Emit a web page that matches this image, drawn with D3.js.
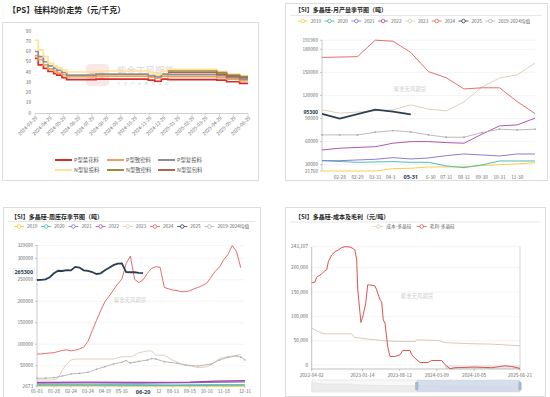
<!DOCTYPE html>
<html>
<head>
<meta charset="utf-8">
<script src="https://cdn.jsdelivr.net/npm/d3@7"></script>
<style>
html, body { margin: 0; padding: 0; background: #fff; }
svg { display: block; font-family: "Noto Sans CJK SC", "Noto Sans", sans-serif; }
</style>
</head>
<body>
<svg id="chart" width="550" height="397"></svg>
<script>
// ---------- panel 1: PS price (元/千克), step dates ----------
const psDates = ['2024-03-29','2024-04-05','2024-04-16','2024-04-26','2024-05-08','2024-05-15','2024-05-26','2024-06-05',
  '2024-08-07','2024-11-27','2024-12-11','2024-12-25','2025-01-08','2025-04-23','2025-05-14','2025-06-11','2025-06-29'];
const psPFlower  = [53.3, 47, 43.5, 40.5, 38.5, 37, 34.5, 32.5, 33, 32, 31, 33, 32.5, 32, 30.5, 29, 29];
const psPDense   = [56, 52, 47, 43, 41, 39, 37.5, 35.5, 36, 35, 34, 36, 35.5, 34.5, 33, 31.5, 31.5];
const psPRecharge= [60, 55, 50, 46, 43.5, 41.5, 39.5, 37, 38, 36.5, 35.5, 38, 37.5, 36.5, 34.5, 33, 33];
const psNRecharge= [71, 61.5, 55, 48.5, 46, 44, 42, 40, 41, 39.5, 38, 41, 42.5, 40.5, 38, 36, 36];
const psNDense   = [null, null, null, null, null, null, null, null, null, null, null, null, 41, 39.5, 37, 35.5, 35.5];
const psNMixed   = [null, null, null, null, null, null, null, null, null, null, null, null, 39.5, 38, 36, 34.5, 34.5];
const psTicks = ['2024-03-29','2024-04-29','2024-05-29','2024-06-29','2024-07-29','2024-08-29','2024-09-29','2024-10-29',
  '2024-11-29','2024-12-29','2025-01-29','2025-03-01','2025-03-29','2025-04-29','2025-05-29','2025-06-29'];
const psTickLabels = ['2024-03-29','2024-04-29','2024-05-29','2024-06-29','2024-07-29','2024-08-29','2024-09-29','2024-10-29',
  '2024-11-29','2024-12-29','2025-01-29','2025-02-29','2025-03-29','2025-04-29','2025-05-29','2025-06-29'];
const psNames = ['P型菜花料','P型致密料','P型复投料','N型复投料','N型致密料','N型混包料'];
const psColors = ['#dd2a25','#f5a05a','#8f8f8f','#ffe394','#a08a3e','#a8694c'];

// ---------- shared seasonal legend ----------
const seasonNames = ['2019','2020','2021','2022','2023','2024','2025','2019-2024均值'];
const seasonColors = ['#f7c934','#3cb3b1','#7d6fd1','#a8459c','#dccbb5','#e0605e','#2c3e50','#b3b3b3'];

// ---------- panel 2: monthly output (吨) ----------
const moCats = ['01-31','02-28','02-29','03-31','04-30','05-31','06-30','07-31','08-31','09-30','10-31','11-30','12-31'];
// axis text as it shows next to the highlighted 05-31 label
const moShown = [null,'02-28','02-29','03-31','04-3','05-31','6-30','07-31','08-31','09-30','10-31','11-30',null];
const mo2019 = [21760, 21760, null, 21760, 24800, 25300, 27000, 27000, 27400, 28700, 30000, 30900, 32600];
const mo2020 = [35200, null, 33000, 33500, 33900, 33100, 33100, 28300, 26100, 29600, 34800, 34800, 34800];
const mo2021 = [35200, 35200, null, 37000, 39100, 37400, 38700, 41700, 43900, 42600, 41300, 43900, 43900];
const mo2022 = [49100, 51400, null, 53400, 57900, 60000, 60000, 58700, 57900, 69600, 80400, 81700, 90500];
const mo2023 = [101300, 97000, null, 100000, 101300, 107800, 102200, 100000, 111500, 130900, 142600, 146900, 162200];
const mo2024 = [169500, null, 170500, 191900, 190600, 176000, 151000, 143000, 128500, 130000, 130000, 112000, 96500];
const mo2025 = [96000, 90000, null, 101500, 99000, 95300, null, null, null, null, null, null, null];
const moAvg  = [68700, 68700, 68700, 72200, 74300, 72600, 68700, 65700, 65700, 71700, 76100, 75200, 76100];
const moTicks = [21760, 30000, 60000, 90000, 120000, 150000, 180000, 191900];

// ---------- panel 3: weekly inventory (吨), x = week index ----------
const wkTickIdx = [0, 4, 8, 12, 16, 20, 28, 32, 36, 40, 44, 49];
const wkTickLabels = ['01-01','01-28','02-24','03-24','04-19','05-16','12','08-13','09-15','10-16','11-18','12-31'];
const wk2024 = [77000, 77500, 78500, 79500, 80200, 83000, 85500, 87000, 84500, 86000, 89000, 93000, 106500, 131000, 155000, 178000,
  199000, 212000, 226000, 240000, 252000, 288000, 305300, 251000, 243500, 250000, 265000, 276500, 280500, 279000, 232000, 229000,
  226000, 225000, 222000, 222500, 224500, 229000, 232500, 237000, 242000, 256000, 270000, 280000, 297000, 309300, 329600, 316000, 278000];
const wk2025 = [249500, 250000, 251000, 256000, 265000, 271000, 270500, 272500, 272000, 280000, 278500, 272000, 270500, 268000,
  263500, 265000, 272000, 278000, 284000, 287500, 288300, 268000, 267500, 267500, 266000, 265300];
const wk2023 = [[0,16600],[4,17000],[5,22000],[6,40000],[7,54000],[8,63000],[9,65500],[18,65500],[20,70900],[22,70900],[23,74100],
  [24,80200],[26,84200],[27,84200],[28,74800],[30,74100],[32,63200],[34,54000],[36,49900],[38,45200],[40,47600],[41,51500],
  [43,67100],[45,70900],[48,76000]];
const wkAvg = [[0,20600],[2,21000],[4,22100],[6,26000],[8,30600],[10,32000],[12,34600],[14,41600],[16,47600],[18,53900],[20,58000],
  [21,62000],[22,56000],[23,58000],[24,60000],[26,63000],[27,66500],[28,65500],[30,59300],[33,55500],[35,51500],[38,49200],
  [41,53900],[43,63200],[45,69400],[47,72500],[48,70000],[49,63200]];
const wk2019 = [[0,3800],[12,3400],[24,3100],[36,2900],[49,2673]];
const wk2020 = [[0,5500],[12,5200],[24,5000],[32,4500],[40,5000],[49,5500]];
const wk2021 = [[0,9500],[12,10000],[24,9500],[36,10500],[44,12000],[49,12500]];
const wk2022 = [[0,11000],[12,11500],[24,11000],[36,11500],[42,14000],[49,15000]];
const wkTicks = [2673, 50000, 100000, 150000, 200000, 250000, 300000, 329600];

// ---------- panel 4: cost and margin (元/吨) ----------
const costSeries = [['2022-04-02',75900],['2022-04-20',72400],['2022-05-18',66900],['2022-06-16',64200],['2022-11-12',64200],
  ['2022-12-02',56600],['2023-02-15',53400],['2023-05-21',49900],['2023-08-24',48400],['2023-11-06',48400],['2023-11-16',51900],
  ['2024-03-17',50500],['2024-04-05',48400],['2024-04-24',46400],['2024-06-19',45200],['2024-10-10',43700],['2025-01-12',43100],
  ['2025-04-15',41100],['2025-06-21',39600]];
const marginSeries = [['2022-04-02',169300],['2022-04-20',170000],['2022-04-30',180400],['2022-05-28',187200],['2022-06-16',193900],
  ['2022-06-26',196000],['2022-07-05',212400],['2022-07-24',226100],['2022-08-12',232900],['2022-08-30',236300],['2022-09-18',241100],
  ['2022-10-07',243107],['2022-11-04',242500],['2022-11-23',239000],['2022-12-02',236300],['2022-12-12',215900],['2022-12-18',154400],
  ['2023-01-05',87400],['2023-01-18',103200],['2023-02-01',127100],['2023-02-12',164600],['2023-02-25',164600],['2023-03-25',162600],
  ['2023-04-04',154400],['2023-04-23',133900],['2023-05-02',130400],['2023-05-11',92900],['2023-05-21',86100],['2023-06-05',38200],
  ['2023-06-18',17700],['2023-07-16',17700],['2023-08-14',21200],['2023-08-29',30000],['2023-10-09',30000],['2023-10-19',21200],
  ['2023-11-06',14400],['2023-12-04',5400],['2024-01-20',5400],['2024-02-09',9500],['2024-04-05',9500],['2024-04-24',700],
  ['2024-05-22',-7500],['2024-06-19',-5400],['2024-10-10',-4000],['2025-01-12',-5400],['2025-03-28',-1400],['2025-05-05',-2800],
  ['2025-06-21',-6900]];
const cmTickDates = ['2022-04-02','2023-01-14','2023-08-12','2024-03-09','2024-10-05','2025-06-21'];
const cmTicks = [0, 50000, 100000, 150000, 200000, 243107];

// ---------- drawing ----------
const svg = d3.select('#chart');
const parse = d3.timeParse('%Y-%m-%d');
const AX = '#666';
const FS = 4.7;

function box(x, y, w, h) {
  svg.append('rect').attr('x', x + 0.5).attr('y', y + 0.5).attr('width', w).attr('height', h)
    .attr('fill', '#fff').attr('stroke', '#dddddd');
}

function title(x, y, s, size) {
  svg.append('text').attr('x', x).attr('y', y).text(s)
    .attr('font-size', size).attr('font-weight', 700).attr('fill', '#262626');
}

function watermark(x, y) {
  svg.append('text').attr('x', x).attr('y', y).attr('text-anchor', 'middle')
    .attr('font-size', 5.4).attr('fill', '#cfcfcf').text('紫金天风期货');
}

function seasonLegend(x0, y, step) {
  const g = svg.append('g');
  seasonNames.forEach((name, i) => {
    const mx = x0 + i * step;
    g.append('line').attr('x1', mx - 5).attr('x2', mx + 5).attr('y1', y).attr('y2', y)
      .attr('stroke', seasonColors[i]).attr('stroke-width', 0.8);
    g.append('circle').attr('cx', mx).attr('cy', y).attr('r', 1.8)
      .attr('fill', '#fff').attr('stroke', seasonColors[i]).attr('stroke-width', 0.8);
    g.append('text').attr('x', mx + 8).attr('y', y).attr('dy', '0.35em')
      .attr('font-size', FS).attr('fill', AX).text(name);
  });
}

function yLabels(g, ticks, y, xr, fmt) {
  ticks.forEach(t => {
    g.append('text').attr('x', xr).attr('y', y(t)).attr('dy', '0.35em').attr('text-anchor', 'end')
      .attr('font-size', FS).attr('fill', AX).text(fmt ? fmt(t) : t);
  });
}

function highlight(g, x, y, s, anchor, bordered, size) {
  const w = anchor === 'end' ? 21 : 18, h = 6;
  const rx = anchor === 'end' ? x - w + 1.5 : x - w / 2;
  g.append('rect').attr('x', rx).attr('y', y - h / 2).attr('width', w).attr('height', h)
    .attr('fill', '#fff').attr('stroke', bordered ? '#e3e3e3' : 'none').attr('stroke-width', 0.5);
  g.append('text').attr('x', x).attr('y', y).attr('dy', '0.36em').attr('font-family', '"Noto Sans", sans-serif')
    .attr('text-anchor', anchor).attr('font-size', size || 5.6).attr('font-weight', 700).attr('fill', '#2c3e50').text(s);
}

// ===== panel 1 =====
(function () {
  box(2, 22, 256, 158);
  title(8, 13, '【PS】硅料均价走势（元/千克）', 8);
  const g = svg.append('g');
  const x = d3.scaleTime().domain([parse('2024-03-29'), parse('2025-06-29')]).range([35, 248]);
  const y = d3.scaleLinear().domain([0, 80]).range([113, 31]);

  // watermark logo
  g.append('rect').attr('x', 86).attr('y', 64).attr('width', 23).attr('height', 22).attr('rx', 4)
    .attr('fill', '#f6dede').attr('opacity', 0.7);
  g.append('text').attr('x', 97.5).attr('y', 78).attr('text-anchor', 'middle').attr('font-size', 8)
    .attr('fill', '#eab9b9').text('紫金');
  g.append('text').attr('x', 117).attr('y', 74).attr('font-size', 9.5).attr('fill', '#e3d3d3').text('紫金天风期货');
  g.append('text').attr('x', 117).attr('y', 85).attr('font-size', 3.6).attr('fill', '#e5d3d3')
    .attr('letter-spacing', 3.3).text('立足产业研究驱动');

  yLabels(g, d3.range(0, 81, 10), y, 31);
  g.append('line').attr('x1', 35).attr('x2', 248).attr('y1', 113.5).attr('y2', 113.5).attr('stroke', '#d0d0d0');
  psTicks.forEach((t, i) => {
    const tx = x(parse(t));
    g.append('line').attr('x1', tx).attr('x2', tx).attr('y1', 113.5).attr('y2', 115.5).attr('stroke', '#d0d0d0');
    g.append('text').attr('transform', `translate(${tx + 1.5},${117}) rotate(-45)`).attr('text-anchor', 'end')
      .attr('dy', '0.35em').attr('font-size', 4.9).attr('fill', '#777').text(psTickLabels[i]);
  });

  const series = [psPFlower, psPDense, psPRecharge, psNRecharge, psNDense, psNMixed];
  const line = d3.line().defined(d => d[1] != null)
    .x(d => x(parse(d[0]))).y(d => y(d[1])).curve(d3.curveStepAfter);
  series.forEach((s, i) => {
    g.append('path').attr('d', line(psDates.map((d, j) => [d, s[j]])))
      .attr('fill', 'none').attr('stroke', psColors[i]).attr('stroke-width', 1.7);
  });

  const lx = [55, 107, 158];
  psNames.forEach((n, i) => {
    const cx = lx[i % 3], cy = i < 3 ? 160 : 170;
    g.append('line').attr('x1', cx).attr('x2', cx + 17).attr('y1', cy).attr('y2', cy)
      .attr('stroke', psColors[i]).attr('stroke-width', 2);
    g.append('text').attr('x', cx + 19).attr('y', cy).attr('dy', '0.35em')
      .attr('font-size', 5.4).attr('fill', '#595959').text(n);
  });
})();

// ===== panel 2 =====
(function () {
  box(285, 3, 262, 177);
  title(295, 12, '【SI】多晶硅-月产量季节图（吨）', 6);
  svg.append('line').attr('x1', 290).attr('x2', 542).attr('y1', 15.5).attr('y2', 15.5).attr('stroke', '#e6e6e6');
  seasonLegend(302.7, 21, 26.8);
  const g = svg.append('g');
  const x = d3.scalePoint().domain(moCats).range([322, 535]);
  const y = d3.scaleLinear().domain([21760, 191900]).range([171, 40.2]);

  moTicks.slice(1).forEach(t => {
    g.append('line').attr('x1', 322).attr('x2', 535).attr('y1', y(t)).attr('y2', y(t)).attr('stroke', '#ececec').attr('stroke-width', 0.6);
  });
  watermark(410, 91);
  g.append('line').attr('x1', 322).attr('x2', 322).attr('y1', 40).attr('y2', 171).attr('stroke', '#aaa').attr('stroke-width', 0.6);
  moTicks.forEach(t => g.append('line').attr('x1', 320).attr('x2', 322).attr('y1', y(t)).attr('y2', y(t)).attr('stroke', '#aaa').attr('stroke-width', 0.6));
  yLabels(g, moTicks, y, 318);
  moCats.forEach((c, i) => {
    const s = moShown[i];
    if (!s || c === '05-31') return;
    const anchor = s === '04-3' ? 'start' : (s === '6-30' ? 'end' : 'middle');
    const ox = anchor === 'start' ? -7 : (anchor === 'end' ? 7 : 0);
    g.append('text').attr('x', x(c) + ox).attr('y', 177).attr('dy', '0.35em').attr('text-anchor', anchor)
      .attr('font-size', FS).attr('fill', AX).text(s);
  });

  const series = [mo2019, mo2020, mo2021, mo2022, mo2023, mo2024, mo2025, moAvg];
  const line = d3.line().x(d => x(d[0])).y(d => y(d[1]));
  series.forEach((s, i) => {
    const pts = moCats.map((c, j) => [c, s[j]]).filter(d => d[1] != null);
    g.append('path').attr('d', line(pts)).attr('fill', 'none')
      .attr('stroke', seasonColors[i]).attr('stroke-width', i === 6 ? 1.8 : 0.9);
    if (i === 7) {
      g.selectAll(null).data(pts).enter().append('circle')
        .attr('cx', d => x(d[0])).attr('cy', d => y(d[1])).attr('r', 0.9).attr('fill', '#aaa');
    }
  });

  highlight(g, 318, y(95300) - 2.6, '95300', 'end', false, 5.1);
  highlight(g, x('05-31'), 177, '05-31', 'middle', false, 5.6);
})();

// ===== panel 3 =====
(function () {
  box(3, 207, 257, 195);
  title(11, 218.5, '【SI】多晶硅-周库存季节图（吨）', 6);
  svg.append('line').attr('x1', 8).attr('x2', 255).attr('y1', 221.5).attr('y2', 221.5).attr('stroke', '#e6e6e6');
  seasonLegend(19, 226.5, 27.2);
  const g = svg.append('g');
  const x = d3.scaleLinear().domain([0, 49]).range([37, 245]);
  const y = d3.scaleLinear().domain([2673, 329600]).range([386, 245.6]);

  wkTicks.slice(1).forEach(t => {
    g.append('line').attr('x1', 37).attr('x2', 245).attr('y1', y(t)).attr('y2', y(t)).attr('stroke', '#ececec').attr('stroke-width', 0.6);
  });
  watermark(130, 302);
  g.append('line').attr('x1', 37).attr('x2', 37).attr('y1', 245).attr('y2', 386).attr('stroke', '#aaa').attr('stroke-width', 0.6);
  g.append('line').attr('x1', 37).attr('x2', 245).attr('y1', 386).attr('y2', 386).attr('stroke', '#aaa').attr('stroke-width', 0.6);
  wkTicks.forEach(t => g.append('line').attr('x1', 35).attr('x2', 37).attr('y1', y(t)).attr('y2', y(t)).attr('stroke', '#aaa').attr('stroke-width', 0.6));
  yLabels(g, wkTicks, y, 33);
  wkTickIdx.forEach((k, i) => {
    const lab = wkTickLabels[i];
    g.append('line').attr('x1', x(k)).attr('x2', x(k)).attr('y1', 386).attr('y2', 388).attr('stroke', '#aaa').attr('stroke-width', 0.6);
    g.append('text').attr('x', lab === '12' ? x(k) + 5.5 : x(k)).attr('y', 391.5).attr('dy', '0.35em')
      .attr('text-anchor', lab === '12' ? 'end' : 'middle')
      .attr('font-size', FS).attr('fill', AX).text(lab);
  });

  const line = d3.line().x(d => x(d[0])).y(d => y(d[1]));
  const pairs = [wk2019, wk2020, wk2021, wk2022, wk2023,
    wk2024.map((v, k) => [k, v]), wk2025.map((v, k) => [k, v]), wkAvg];
  pairs.forEach((s, i) => {
    g.append('path').attr('d', line(s)).attr('fill', 'none')
      .attr('stroke', seasonColors[i]).attr('stroke-width', i === 6 ? 1.8 : (i < 4 ? 1.3 : 0.9));
    if (i === 7) {
      g.selectAll(null).data(s).enter().append('circle')
        .attr('cx', d => x(d[0])).attr('cy', d => y(d[1])).attr('r', 0.8).attr('fill', '#aaa');
    }
  });

  highlight(g, 33, y(265300) - 1.5, '265300', 'end', true, 5.4);
  highlight(g, x(25), 391.5, '06-20', 'middle', false, 5.6);
})();

// ===== panel 4 =====
(function () {
  box(285, 207, 260, 189);
  title(295, 218.5, '【SI】多晶硅-成本及毛利（元/吨）', 6);
  svg.append('line').attr('x1', 290).attr('x2', 540).attr('y1', 222).attr('y2', 222).attr('stroke', '#e6e6e6');
  const g = svg.append('g');
  const x = d3.scaleTime().domain([parse('2022-04-02'), parse('2025-06-21')]).range([311.7, 520]);
  const y = d3.scaleLinear().domain([-8000, 243107]).range([369, 246.7]);

  // legend
  [['成本-多晶硅', '#d9cbb8', 378.3], ['毛利-多晶硅', '#dc5450', 421.7]].forEach(([n, c, mx]) => {
    g.append('line').attr('x1', mx - 5).attr('x2', mx + 5).attr('y1', 226.5).attr('y2', 226.5).attr('stroke', c).attr('stroke-width', 0.8);
    g.append('circle').attr('cx', mx).attr('cy', 226.5).attr('r', 1.8).attr('fill', '#fff').attr('stroke', c).attr('stroke-width', 0.8);
    g.append('text').attr('x', mx + 8).attr('y', 226.5).attr('dy', '0.35em').attr('font-size', FS).attr('fill', AX).text(n);
  });

  cmTicks.forEach(t => {
    g.append('line').attr('x1', 311.7).attr('x2', 520).attr('y1', y(t)).attr('y2', y(t)).attr('stroke', '#ececec').attr('stroke-width', 0.6);
  });
  watermark(417, 298);
  g.append('rect').attr('x', x(parse('2024-04-24'))).attr('y', y(0)).attr('width', 520 - x(parse('2024-04-24')))
    .attr('height', y(-8000) - y(0)).attr('fill', '#e4e4e4').attr('opacity', 0.8);
  g.append('line').attr('x1', 520).attr('x2', 520).attr('y1', 246.7).attr('y2', 369).attr('stroke', '#bbb').attr('stroke-width', 0.6);
  g.append('line').attr('x1', 311.7).attr('x2', 311.7).attr('y1', 246.7).attr('y2', 369).attr('stroke', '#999').attr('stroke-width', 0.6);
  g.append('line').attr('x1', 311.7).attr('x2', 520).attr('y1', 369).attr('y2', 369).attr('stroke', '#999').attr('stroke-width', 0.6);
  const fmt = d3.format(',');
  yLabels(g, cmTicks, y, 308, fmt);
  cmTickDates.forEach(d => {
    const tx = x(parse(d));
    g.append('line').attr('x1', tx).attr('x2', tx).attr('y1', 369).attr('y2', 371).attr('stroke', '#999').attr('stroke-width', 0.6);
    g.append('text').attr('x', tx).attr('y', 375.5).attr('dy', '0.35em').attr('text-anchor', 'middle')
      .attr('font-size', FS).attr('fill', AX).text(d);
  });

  const line = d3.line().x(d => x(parse(d[0]))).y(d => y(d[1]));
  g.append('path').attr('d', line(costSeries)).attr('fill', 'none').attr('stroke', '#d9cbb8').attr('stroke-width', 1);
  g.append('path').attr('d', line(marginSeries)).attr('fill', 'none').attr('stroke', '#dc5450').attr('stroke-width', 1);

  // data zoom slider
  g.append('rect').attr('x', 312).attr('y', 380).attr('width', 208).attr('height', 12)
    .attr('fill', '#f8f8f8').attr('stroke', '#dedede').attr('stroke-width', 0.6);
  const ys = d3.scaleLinear().domain([0, 100000]).range([391, 380]).clamp(true);
  const area = d3.area().x(d => x(parse(d[0]))).y0(391).y1(d => ys(d[1]));
  g.append('path').attr('d', area(costSeries)).attr('fill', '#ececec').attr('stroke', '#dcdcdc').attr('stroke-width', 0.5);
  const sx = x(parse('2023-11-16'));
  g.append('rect').attr('x', sx).attr('y', 380).attr('width', 520 - sx).attr('height', 12)
    .attr('fill', '#c9d5e6').attr('opacity', 0.75);
  [sx, 520].forEach(hx => {
    g.append('rect').attr('x', hx - 1.3).attr('y', 382).attr('width', 2.6).attr('height', 8).attr('rx', 1)
      .attr('fill', '#a9bbd3').attr('stroke', '#8ea5c4').attr('stroke-width', 0.4);
  });
})();
</script>
</body>
</html>
